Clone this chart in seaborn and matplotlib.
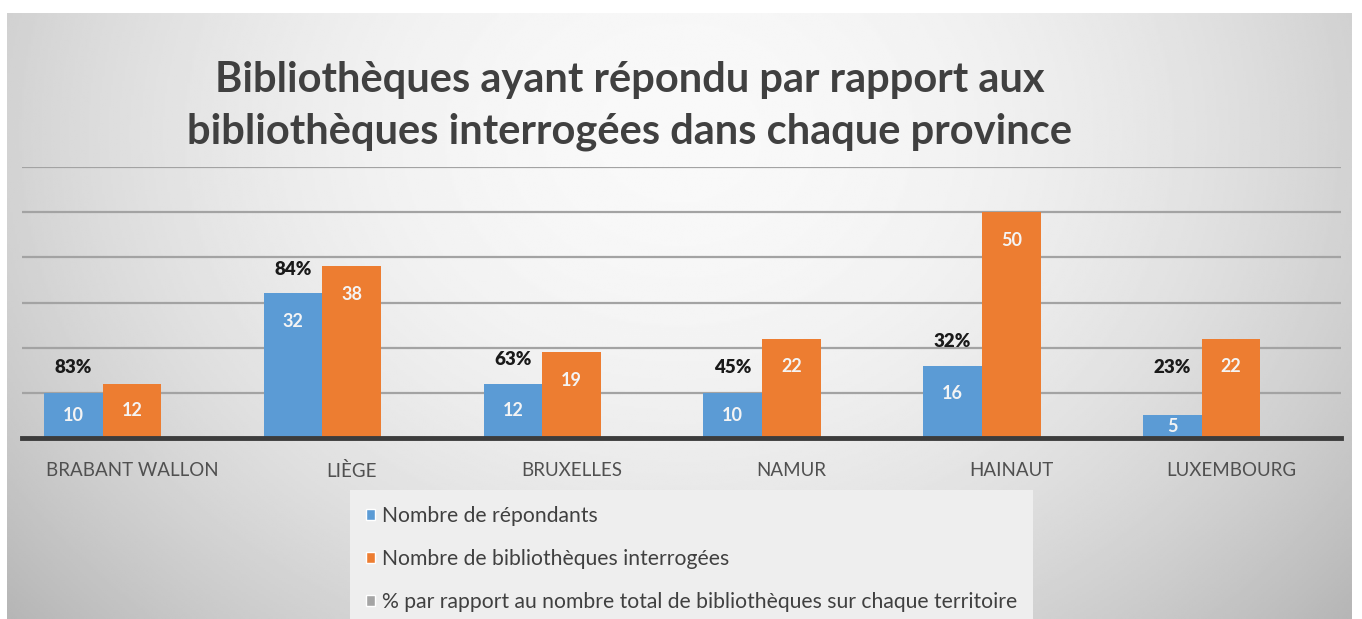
import numpy as np
import pandas as pd
import matplotlib.pyplot as plt
import seaborn as sns
from matplotlib.patches import Patch

# Data
provinces = ['BRABANT WALLON', 'LIÈGE', 'BRUXELLES', 'NAMUR', 'HAINAUT', 'LUXEMBOURG']
repondants = [10, 32, 12, 10, 16, 5]
interrogees = [12, 38, 19, 22, 50, 22]
pourcentages = ['83%', '84%', '63%', '45%', '32%', '23%']
series = ['Nombre de répondants',
          'Nombre de bibliothèques interrogées',
          '% par rapport au nombre total de bibliothèques sur chaque territoire']
colors = ['#5B9BD5', '#ED7D31', '#A5A5A5']

# long format, the % series is only shown as labels (no visible bar)
df = pd.DataFrame({
    'province': provinces * 3,
    'serie': [series[0]] * 6 + [series[1]] * 6 + [series[2]] * 6,
    'valeur': repondants + interrogees + [0] * 6,
})

sns.set_style('white')
plt.rcParams['font.family'] = ['Lato', 'DejaVu Sans']

fig = plt.figure(figsize=(13.62, 6.19), dpi=100)
fig.patch.set_facecolor('white')

# grey radial gradient panel behind the chart
bg = fig.add_axes([7 / 1362, 0, 1345 / 1362, 606 / 619])
yy, xx = np.mgrid[0:1:300j, 0:1:600j]
r = np.sqrt(((xx - 0.5) / 0.55) ** 2 + ((yy - 0.2) / 1.0) ** 2)
grad = np.clip(0.975 - 0.18 * r ** 2, 0, 1)
bg.imshow(grad, cmap='gray', vmin=0, vmax=1, aspect='auto', extent=[0, 1, 0, 1])
bg.axis('off')

ax = fig.add_axes([22 / 1362, 1 - 438 / 619, 1319 / 1362, (438 - 167) / 619])
ax.set_facecolor('none')
sns.barplot(data=df, x='province', y='valeur', hue='serie', hue_order=series,
            order=provinces, palette=colors, saturation=1, width=0.8,
            errorbar=None, linewidth=0, legend=False, ax=ax)

ax.set_xlim(-0.5, 5.5)
ax.set_ylim(0, 60)
ax.set_yticks(range(10, 61, 10))
ax.yaxis.grid(True, color='#a3a3a3', linewidth=1.6)
ax.set_axisbelow(True)
for side in ['top', 'left', 'right']:
    ax.spines[side].set_visible(False)
ax.spines['bottom'].set_color('#3c3c3c')
ax.spines['bottom'].set_linewidth(3.5)
ax.tick_params(axis='y', left=False, labelleft=False)
ax.tick_params(axis='x', length=0, pad=17, labelsize=13.5, labelcolor='#505050')
ax.set_xlabel('')
ax.set_ylabel('')

# value labels inside the bars
for cont in ax.containers[:2]:
    for bar in cont:
        h = bar.get_height()
        ax.text(bar.get_x() + bar.get_width() / 2, max(h - 6.2, h / 2), f'{h:.0f}',
                ha='center', va='center', color='#f4f4f4', fontsize=13, fontweight='bold')

# percentages above the blue bars
for bar, p in zip(ax.containers[0], pourcentages):
    h = bar.get_height()
    ax.text(bar.get_x() + bar.get_width() / 2, max(h + 5.4, 15.5), p,
            ha='center', va='center', color='#1a1a1a', fontsize=13.5, fontweight='heavy')

fig.text(630 / 1362, 1 - 106 / 619,
         'Bibliothèques ayant répondu par rapport aux\nbibliothèques interrogées dans chaque province',
         ha='center', va='center', fontsize=30, fontweight='bold', color='#404040',
         linespacing=1.46)

handles = [Patch(facecolor=c) for c in colors]
leg = fig.legend(handles, series, loc='upper left', bbox_to_anchor=(350 / 1362, 1 - 490 / 619),
                 frameon=True, facecolor='#eeeeee', edgecolor='none', framealpha=1,
                 fancybox=False, fontsize=15.2, handlelength=0.45, handleheight=0.45,
                 handletextpad=0.3, labelspacing=1.1, borderpad=0.75, borderaxespad=0,
                 labelcolor='#404040')

fig.savefig('out.png', dpi=100)
